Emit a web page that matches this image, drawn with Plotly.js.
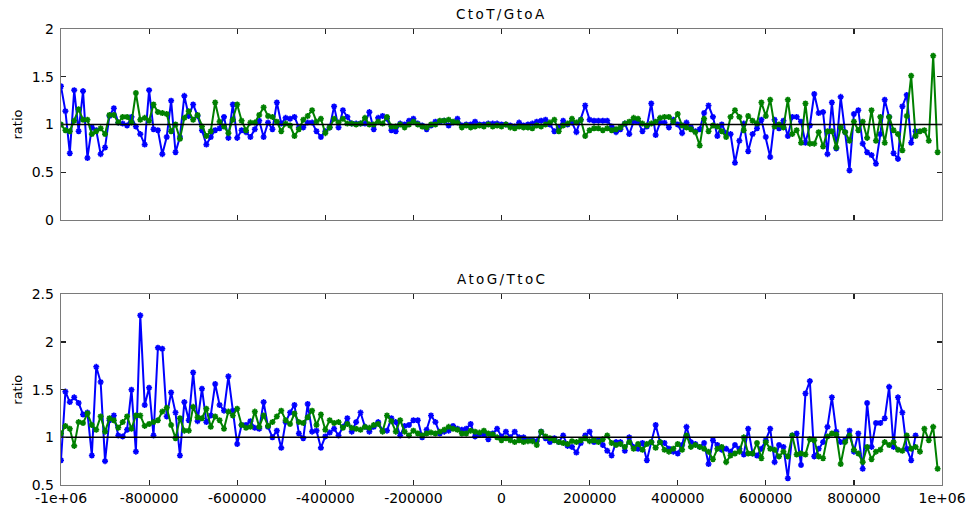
<!DOCTYPE html>
<html>
<head>
<meta charset="utf-8">
<script src="https://cdn.plot.ly/plotly-3.0.1.min.js"></script>
<style>
  html, body { margin: 0; padding: 0; background: #fff; }
  #chart { width: 966px; height: 507px; }
  .annotation-text { letter-spacing: 2.4px; }
</style>
</head>
<body>
<div id="chart"></div>
<script>
// Bin layout: ratios are computed in 10 kb bins starting at -1 Mb.
const binStart = -1000000;
const binStep = 10000;

// Panel titles and axis labels
const panelTitles = ['CtoT/GtoA', 'AtoG/TtoC'];
const yLabel = 'ratio';

// X tick positions and their printed labels
const xTickVals = [-1000000, -800000, -600000, -400000, -200000, 0, 200000, 400000, 600000, 800000, 1000000];
const xTickText = ['-1e+06', '-800000', '-600000', '-400000', '-200000', '0', '200000', '400000', '600000', '800000', '1e+06'];
const yTickValsTop = [0, 0.5, 1, 1.5, 2];
const yTickTextTop = ['0', '0.5', '1', '1.5', '2'];
const yTickValsBottom = [0.5, 1, 1.5, 2, 2.5];
const yTickTextBottom = ['0.5', '1', '1.5', '2', '2.5'];

// C->T / G->A ratios
const ctBlue = [
  1.40, 1.14, 0.70, 1.36, 0.93, 1.35, 0.65, 0.97, 0.94, 0.69,
  0.76, 1.09, 1.17, 1.02, 1.01, 0.99, 1.08, 0.98, 0.90, 0.79,
  1.36, 0.95, 0.94, 0.69, 0.87, 1.25, 0.71, 0.87, 1.30, 1.09,
  1.21, 1.09, 0.94, 0.79, 0.87, 0.94, 0.96, 1.08, 0.86, 1.21,
  0.86, 0.94, 0.92, 0.87, 0.95, 1.04, 0.87, 1.02, 0.95, 1.23,
  1.01, 1.07, 1.06, 1.08, 0.97, 0.97, 1.02, 1.02, 0.93, 0.87,
  0.93, 0.97, 1.19, 0.97, 1.15, 1.08, 1.01, 1.01, 1.01, 1.01,
  1.13, 0.95, 1.07, 1.09, 1.06, 0.94, 0.93, 1.01, 1.00, 1.04,
  1.06, 1.01, 0.99, 0.95, 0.99, 1.03, 1.03, 1.04, 0.99, 1.02,
  1.06, 0.99, 1.00, 1.00, 1.03, 1.00, 1.00, 1.01, 1.01, 1.01,
  1.00, 1.00, 0.99, 0.98, 1.02, 0.99, 1.00, 1.01, 1.03, 1.04,
  1.05, 1.00, 0.93, 0.97, 1.04, 1.00, 1.02, 0.92, 1.05, 1.20,
  1.05, 1.04, 1.04, 1.04, 1.04, 0.98, 0.92, 0.95, 1.01, 0.90,
  1.03, 1.03, 0.93, 0.98, 1.22, 0.89, 1.02, 1.02, 0.97, 1.05,
  1.00, 0.91, 1.02, 0.97, 0.93, 0.95, 1.12, 1.20, 1.08, 0.88,
  1.00, 0.91, 0.90, 0.60, 0.83, 1.01, 0.72, 0.90, 0.96, 1.05,
  0.87, 0.66, 1.05, 0.96, 1.04, 0.88, 1.08, 1.08, 1.03, 0.81,
  0.99, 1.32, 1.12, 1.13, 0.69, 1.23, 0.75, 1.29, 0.92, 0.52,
  1.11, 1.15, 0.80, 0.71, 0.68, 0.59, 0.90, 1.26, 1.08, 0.70,
  0.64, 1.19, 1.31, 0.81, 0.93
];
const ctGreen = [
  1.00, 0.94, 0.93, 1.04, 1.16, 1.05, 1.05, 0.90, 0.93, 0.96,
  0.90, 1.10, 1.10, 1.02, 1.08, 1.08, 1.02, 1.33, 1.05, 1.07,
  1.04, 1.21, 1.13, 1.12, 1.11, 0.93, 1.00, 0.85, 1.07, 1.14,
  1.05, 1.10, 0.98, 0.88, 0.93, 1.23, 1.03, 0.98, 0.91, 1.05,
  1.21, 1.04, 0.94, 1.02, 1.02, 1.10, 1.18, 1.09, 1.08, 1.03,
  0.93, 1.01, 0.99, 0.88, 0.95, 1.05, 1.09, 1.15, 1.03, 1.06,
  0.91, 0.97, 1.06, 1.02, 1.06, 1.01, 1.01, 1.00, 1.01, 1.07,
  1.00, 1.00, 1.03, 1.01, 1.08, 0.98, 0.98, 1.00, 0.97, 1.00,
  1.03, 1.00, 0.98, 0.97, 1.00, 1.00, 1.04, 1.04, 1.05, 1.03,
  1.02, 0.97, 0.99, 0.97, 0.98, 0.99, 0.98, 1.00, 0.98, 0.99,
  0.98, 1.00, 0.97, 0.96, 0.98, 0.97, 0.97, 0.96, 0.99, 0.98,
  1.00, 1.02, 1.05, 0.93, 0.99, 1.01, 1.06, 1.02, 1.05, 0.88,
  0.94, 0.96, 0.96, 0.94, 0.96, 0.94, 0.95, 0.97, 1.01, 1.03,
  1.07, 1.06, 1.01, 0.99, 1.01, 1.03, 1.07, 1.08, 1.08, 1.03,
  1.11, 0.99, 0.97, 0.95, 0.92, 0.78, 1.06, 0.93, 0.99, 0.98,
  0.93, 0.87, 1.08, 1.15, 1.08, 0.94, 1.09, 1.04, 1.01, 1.23,
  1.09, 1.26, 0.98, 1.00, 0.97, 1.26, 0.90, 0.94, 0.81, 1.22,
  0.80, 0.80, 0.92, 0.77, 0.93, 0.93, 0.76, 0.97, 0.92, 0.83,
  1.03, 0.94, 1.03, 0.86, 1.15, 0.83, 1.08, 0.81, 1.08, 0.94,
  0.90, 0.73, 1.09, 1.51, 0.88, 0.93, 0.94, 0.83, 1.72, 0.71
];

// A->G / T->C ratios
const agBlue = [
  0.76, 1.48, 1.37, 1.42, 1.36, 1.24, 1.26, 0.81, 1.74, 1.58,
  0.75, 1.18, 1.23, 1.02, 1.01, 1.08, 1.50, 0.85, 2.28, 1.34,
  1.52, 1.02, 1.94, 1.93, 1.22, 1.47, 1.26, 0.81, 1.37, 1.18,
  1.68, 1.17, 1.51, 1.16, 1.23, 1.56, 1.34, 1.28, 1.64, 1.28,
  0.93, 1.13, 1.13, 1.17, 1.10, 1.09, 1.37, 1.11, 1.00, 1.07,
  0.89, 1.16, 1.26, 1.34, 1.04, 0.99, 1.35, 1.06, 1.07, 0.89,
  1.01, 1.05, 1.09, 1.02, 1.11, 1.20, 1.06, 1.16, 1.26, 1.11,
  1.06, 1.11, 1.16, 1.07, 1.07, 1.20, 1.16, 1.02, 1.12, 1.13,
  1.18, 1.18, 1.00, 1.08, 1.23, 1.16, 1.04, 1.06, 1.07, 1.12,
  1.09, 1.08, 1.09, 1.14, 1.01, 1.03, 1.03, 0.98, 1.04, 1.09,
  1.01, 1.06, 1.00, 1.06, 1.00, 1.00, 0.97, 0.97, 0.96, 1.06,
  0.99, 0.95, 0.99, 0.95, 1.02, 0.91, 0.90, 0.84, 0.94, 1.02,
  1.06, 0.95, 0.97, 0.92, 0.86, 0.81, 0.95, 0.95, 0.86, 1.00,
  0.90, 0.88, 0.94, 0.76, 0.95, 1.13, 0.95, 0.94, 0.88, 0.85,
  0.83, 0.92, 1.11, 0.95, 0.93, 0.90, 0.94, 0.72, 0.97, 0.92,
  0.87, 0.88, 0.85, 0.92, 0.88, 0.82, 1.09, 0.83, 0.81, 0.88,
  0.97, 1.09, 0.74, 0.92, 0.90, 0.57, 1.02, 1.04, 0.71, 1.46,
  1.59, 0.80, 0.88, 0.95, 1.11, 1.42, 1.06, 0.95, 0.97, 1.07,
  0.85, 1.04, 0.67, 1.36, 0.90, 1.15, 1.15, 1.20, 1.53, 0.90,
  1.42, 1.26, 0.88, 0.76, 1.02
];
const agGreen = [
  1.04, 1.12, 1.09, 0.91, 1.16, 1.15, 1.25, 1.13, 1.08, 1.22,
  1.06, 1.20, 1.18, 1.10, 1.16, 1.22, 1.09, 1.23, 1.23, 1.12,
  1.14, 1.16, 1.18, 1.27, 1.31, 1.13, 0.99, 1.20, 1.07, 1.07,
  1.32, 1.21, 1.20, 1.30, 1.11, 1.22, 1.18, 1.09, 1.27, 1.23,
  1.30, 1.13, 1.10, 1.11, 1.27, 1.11, 1.23, 1.12, 1.16, 1.22,
  1.28, 1.18, 1.14, 1.25, 1.16, 1.15, 1.21, 1.28, 1.13, 1.24,
  1.08, 1.18, 1.15, 1.16, 1.10, 1.14, 1.10, 1.09, 1.08, 1.11,
  1.10, 1.13, 1.14, 1.06, 1.23, 1.17, 1.06, 1.18, 1.06, 1.02,
  1.07, 1.04, 1.02, 1.04, 1.05, 1.04, 1.06, 1.08, 1.11, 1.09,
  1.08, 1.04, 1.04, 1.07, 1.06, 1.05, 1.07, 1.04, 1.03, 1.00,
  0.97, 0.99, 0.97, 0.95, 0.97, 0.95, 0.96, 0.96, 0.92, 1.06,
  1.01, 0.99, 0.97, 0.95, 0.94, 0.93, 0.96, 0.95, 0.97, 0.99,
  0.96, 0.97, 0.95, 0.98, 1.02, 0.94, 0.92, 0.93, 0.90, 0.95,
  0.88, 0.93, 0.87, 0.93, 0.95, 0.89, 0.95, 0.87, 0.85, 0.88,
  0.93, 0.87, 1.02, 0.90, 0.92, 0.90, 0.88, 0.85, 0.77, 0.88,
  0.90, 0.74, 0.81, 0.83, 0.85, 1.00, 0.83, 0.83, 0.94, 0.78,
  0.95, 0.88, 0.87, 0.80, 0.85, 0.80, 1.02, 0.82, 0.83, 0.82,
  0.98, 0.97, 0.80, 0.78, 1.01, 1.04, 1.03, 0.72, 0.95, 1.02,
  0.87, 0.83, 0.74, 0.90, 0.77, 0.85, 0.87, 0.95, 0.92, 0.95,
  0.87, 0.86, 1.02, 0.88, 0.90, 0.85, 1.09, 0.97, 1.11, 0.67
];

// Bin start positions for a series of the given length
function binPositions(n) {
  const xs = [];
  for (let i = 0; i < n; i++) xs.push(binStart + i * binStep);
  return xs;
}

const BLUE = '#0000ff';
const GREEN = '#008000';
const FONT = 'DejaVu Sans, Arial, sans-serif';

function series(values, color, xa, ya) {
  return {
    type: 'scatter', mode: 'lines+markers',
    x: binPositions(values.length), y: values,
    xaxis: xa, yaxis: ya,
    line: { color: color, width: 2 },
    marker: { symbol: 'asterisk-open', size: 5, color: color, line: { color: color, width: 1.6 } },
    hoverinfo: 'x+y', showlegend: false, cliponaxis: true
  };
}

function unityLine(xa, ya) {
  return {
    type: 'scatter', mode: 'lines',
    x: [xTickVals[0], xTickVals[xTickVals.length - 1]], y: [1, 1],
    xaxis: xa, yaxis: ya,
    line: { color: '#000000', width: 1.5 },
    hoverinfo: 'skip', showlegend: false
  };
}

const traces = [
  series(ctBlue, BLUE, 'x', 'y'),
  series(ctGreen, GREEN, 'x', 'y'),
  unityLine('x', 'y'),
  series(agBlue, BLUE, 'x2', 'y2'),
  series(agGreen, GREEN, 'x2', 'y2'),
  unityLine('x2', 'y2')
];

const axisCommon = {
  showgrid: false, zeroline: false,
  showline: true, linecolor: '#7a7a7a', linewidth: 1.3,
  mirror: 'ticks', ticks: 'inside', ticklen: 5, tickwidth: 1.2, tickcolor: '#222',
  tickfont: { family: FONT, size: 14, color: '#000' }
};

const layout = {
  width: 966, height: 507,
  margin: { l: 61, r: 24, t: 29, b: 22 },
  paper_bgcolor: '#ffffff', plot_bgcolor: '#ffffff',
  font: { family: FONT, color: '#000' },
  xaxis: Object.assign({}, axisCommon, {
    domain: [0, 1], anchor: 'y', range: [-1000000, 1000000],
    tickmode: 'array', tickvals: xTickVals, ticktext: xTickText, showticklabels: false
  }),
  yaxis: Object.assign({}, axisCommon, {
    domain: [0.581, 1], anchor: 'x', range: [0, 2],
    tickmode: 'array', tickvals: yTickValsTop, ticktext: yTickTextTop,
    ticklabelstandoff: 3,
    title: { text: yLabel, font: { family: FONT, size: 13, color: '#000' }, standoff: 6 }
  }),
  xaxis2: Object.assign({}, axisCommon, {
    domain: [0, 1], anchor: 'y2', range: [-1000000, 1000000],
    tickmode: 'array', tickvals: xTickVals, ticktext: xTickText,
    ticklabelstandoff: 0
  }),
  yaxis2: Object.assign({}, axisCommon, {
    domain: [0, 0.418], anchor: 'x2', range: [0.5, 2.5],
    tickmode: 'array', tickvals: yTickValsBottom, ticktext: yTickTextBottom,
    ticklabelstandoff: 3,
    title: { text: yLabel, font: { family: FONT, size: 13, color: '#000' }, standoff: 6 }
  }),
  annotations: [
    { text: panelTitles[0], xref: 'paper', yref: 'paper', x: 0.5, y: 1.033,
      xanchor: 'center', yanchor: 'middle', showarrow: false,
      font: { family: FONT, size: 13.5, color: '#000' } },
    { text: panelTitles[1], xref: 'paper', yref: 'paper', x: 0.5, y: 0.452,
      xanchor: 'center', yanchor: 'middle', showarrow: false,
      font: { family: FONT, size: 13.5, color: '#000' } }
  ]
};

Plotly.newPlot('chart', traces, layout, { displayModeBar: false, staticPlot: true });
</script>
</body>
</html>
